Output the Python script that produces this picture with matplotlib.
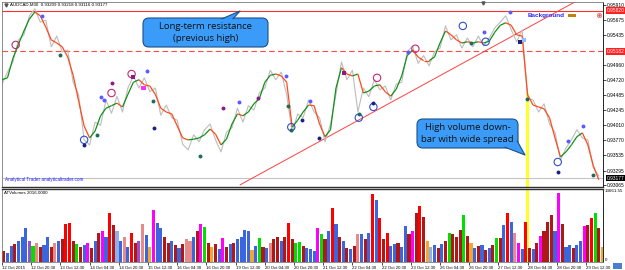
import numpy as np
import matplotlib.pyplot as plt
from matplotlib.collections import LineCollection
from matplotlib.patches import FancyBboxPatch, Polygon, Rectangle

plt.rcParams['font.family'] = ['Liberation Sans', 'DejaVu Sans']

# AUDCAD M30, one reading every 6 bars
step = 6
smooth = [0.9473, 0.9476, 0.9507, 0.9529, 0.9550, 0.9569, 0.9580, 0.9574, 0.9556, 0.9536,
          0.9531, 0.9525, 0.9509, 0.9480, 0.9439, 0.9400, 0.9381, 0.9392, 0.9416, 0.9428,
          0.9432, 0.9436, 0.9430, 0.9450, 0.9469, 0.9473, 0.9465, 0.9463, 0.9450, 0.9428,
          0.9422, 0.9419, 0.9400, 0.9381, 0.9378, 0.9379, 0.9381, 0.9386, 0.9395, 0.9387,
          0.9370, 0.9379, 0.9403, 0.9419, 0.9416, 0.9422, 0.9435, 0.9443, 0.9469, 0.9480,
          0.9482, 0.9479, 0.9469, 0.9398, 0.9409, 0.9422, 0.9433, 0.9432, 0.9403, 0.9383,
          0.9394, 0.9460, 0.9492, 0.9482, 0.9479, 0.9482, 0.9452, 0.9455, 0.9463, 0.9465,
          0.9454, 0.9447, 0.9458, 0.9479, 0.9511, 0.9520, 0.9509, 0.9503, 0.9503, 0.9509,
          0.9531, 0.9550, 0.9544, 0.9536, 0.9531, 0.9533, 0.9531, 0.9533, 0.9531, 0.9534,
          0.9548, 0.9559, 0.9563, 0.9559, 0.9544, 0.9542, 0.9449, 0.9433, 0.9430, 0.9427,
          0.9413, 0.9381, 0.9351, 0.9359, 0.9370, 0.9383, 0.9389, 0.9370, 0.9337, 0.9315]
close = [0.9466, 0.9485, 0.9501, 0.9536, 0.9544, 0.9574, 0.9585, 0.9564, 0.9567, 0.9525,
         0.9542, 0.9517, 0.9520, 0.9469, 0.9449, 0.9378, 0.9370, 0.9406, 0.9401, 0.9441,
         0.9420, 0.9447, 0.9422, 0.9460, 0.9479, 0.9460, 0.9476, 0.9454, 0.9460, 0.9417,
         0.9433, 0.9413, 0.9409, 0.9371, 0.9362, 0.9386, 0.9375, 0.9394, 0.9403, 0.9378,
         0.9359, 0.9390, 0.9397, 0.9428, 0.9406, 0.9432, 0.9425, 0.9452, 0.9460, 0.9488,
         0.9473, 0.9485, 0.9449, 0.9390, 0.9419, 0.9413, 0.9441, 0.9422, 0.9413, 0.9375,
         0.9403, 0.9450, 0.9501, 0.9473, 0.9488, 0.9422, 0.9460, 0.9446, 0.9473, 0.9457,
         0.9463, 0.9441, 0.9466, 0.9469, 0.9517, 0.9526, 0.9499, 0.9511, 0.9495, 0.9517,
         0.9523, 0.9558, 0.9536, 0.9544, 0.9523, 0.9539, 0.9525, 0.9542, 0.9526, 0.9539,
         0.9555, 0.9564, 0.9574, 0.9552, 0.9533, 0.9552, 0.9444, 0.9441, 0.9422, 0.9435,
         0.9403, 0.9390, 0.9346, 0.9365, 0.9378, 0.9394, 0.9381, 0.9378, 0.9334, 0.9321]

# volume, one reading every 4 bars, with colour codes
vol_step = 4
volume = [2090, 1710, 3040, 3420, 3990, 4750, 6270, 3990, 3040, 3610,
          2850, 3230, 4750, 2850, 3610, 3990, 4370, 7030, 7220, 3990,
          3420, 2850, 3230, 3610, 2660, 3990, 5510, 5890, 4750, 9120,
          6840, 5890, 3990, 4750, 2850, 5510, 3610, 3990, 7030, 5130,
          2850, 9690, 7220, 6270, 4750, 3610, 3990, 3230, 2660, 3420,
          4370, 3990, 4750, 5890, 7030, 6460, 3610, 2850, 3420, 2470,
          4560, 2850, 3420, 3610, 4370, 4750, 6080, 5890, 2280, 3040,
          4560, 2850, 2660, 3610, 4370, 4750, 3990, 4750, 7220, 4370,
          3610, 3800, 3040, 2660, 2470, 2090, 6270, 5320, 4370, 5890,
          10070, 7030, 4750, 3990, 2660, 2470, 3040, 5320, 5320, 4370,
          5510, 12730, 11590, 8170, 4370, 5510, 3040, 3420, 3610, 2850,
          6650, 5320, 5890, 9120, 10450, 8360, 3990, 2850, 3230, 2660,
          3420, 3990, 5510, 5320, 4750, 6080, 8740, 4940, 3610, 2660,
          3040, 3230, 2280, 2660, 3230, 4560, 4560, 6840, 9120, 7410,
          5510, 3610, 2470, 7410, 2660, 2470, 3610, 4940, 5890, 7410,
          8740, 5890, 12920, 7030, 2850, 3230, 2660, 3230, 3990, 6650,
          6840, 8170, 9120, 6270, 2850]
vol_codes = ("dbbdbbbpgs" "dbbdsbdrrd" "gdbmdbdmbr" "dlbsbrdpsb" "ombbddbdbd"
             "ssbdmgdodb" "mdbdbbbbob" "gdbsddbdrd" "ggdbbbmgdb" "rbdbdbdsbd"
             "brbrdrbbdb" "bdmdrdolbd" "bdgdddgdob" "dbdbdgdbrb" "smbrdbdmdd"
             "dbmdbbdbbm" "drgdo")
vol_max = 13661.55

res_high = 0.95820
res_low = 0.95182
last_price = 0.93177
trend_bars = [261, 628]
trend_prices = [0.9307, 0.9596]
spike_bar = 575
spike_top = 0.9452

# signal markers (bar, price)
ring_red_bar = [15, 120, 142, 411, 453]
ring_red_px = [0.9528, 0.9452, 0.9482, 0.9476, 0.9522]
ring_blue_bar = [90, 317, 391, 407, 505, 530, 609]
ring_blue_px = [0.9378, 0.9398, 0.9413, 0.9430, 0.9558, 0.9533, 0.9343]
dot_blue_bar = [44, 109, 112, 159, 260, 311, 338, 445, 528, 557, 620, 637]
dot_blue_px = [0.9574, 0.9446, 0.9441, 0.9487, 0.9438, 0.9479, 0.9439, 0.9517, 0.9548, 0.9580, 0.9376, 0.9400]
dot_navy_bar = [90, 167, 329, 347, 407, 609]
dot_navy_px = [0.9370, 0.9397, 0.9409, 0.9381, 0.9436, 0.9327]
dot_teal_bar = [64, 104, 166, 217, 313, 317, 391, 514, 575, 648]
dot_teal_px = [0.9512, 0.9386, 0.9439, 0.9353, 0.9432, 0.9394, 0.9419, 0.9531, 0.9443, 0.9323]
dot_purple_bar = [120, 242, 281]
dot_purple_px = [0.9468, 0.9428, 0.9444]
sq_bar = [144, 155, 375, 568, 572]
sq_px = [0.9477, 0.9460, 0.9484, 0.9533, 0.9536]
sq_colors = ['#8b1a8b', '#ff33ff', '#8b1a8b', '#1a237e', '#8fc0ff']

price_ticks = [0.95910, 0.95675, 0.95435, 0.94960, 0.94720, 0.94485, 0.94245,
               0.94010, 0.93770, 0.93535, 0.93295, 0.93065]
date_labels = ['12 Oct 2015', '12 Oct 20:30', '13 Oct 12:30', '14 Oct 04:30', '14 Oct 20:30',
               '15 Oct 12:30', '16 Oct 04:30', '16 Oct 20:30', '19 Oct 12:30', '20 Oct 04:30',
               '20 Oct 20:30', '21 Oct 12:30', '22 Oct 04:30', '22 Oct 20:30', '23 Oct 12:30',
               '26 Oct 04:30', '26 Oct 20:30', '27 Oct 12:30', '28 Oct 04:30', '28 Oct 20:30',
               '29 Oct 12:30']

palette = {'b': '#3b66dd', 'd': '#b01818', 'r': '#ff0000', 's': '#e88a8a', 'l': '#8fb0ea',
           'm': '#ff00ff', 'g': '#00e000', 'o': '#f0a830', 'p': '#9b4fc8'}

W, H = 625, 270
fig = plt.figure(figsize=(W / 100, H / 100), dpi=100)


def frac(x0, y0, x1, y1):
    return [x0 / W, 1 - y1 / H, (x1 - x0) / W, (y1 - y0) / H]


ax = fig.add_axes(frac(2, 2, 603, 187))
axv = fig.add_axes(frac(2, 189, 603, 262), sharex=ax)

bars = np.arange(len(close)) * step
ax.set_xlim(0, 658.6)
ax.set_ylim(0.93035, 0.95958)

ax.axhline(res_high, color='#ff3030', lw=0.8, zorder=1)
ax.axhline(res_low, color='#ff4848', lw=0.8, ls=(0, (5, 3)), zorder=1)
ax.axhline(last_price, color='#c4c4c4', lw=0.8, zorder=1)
ax.plot(trend_bars, trend_prices, color='#ff4040', lw=0.7, zorder=1)
ax.vlines(spike_bar, 0.93035, spike_top, color='#ffff30', lw=2.3, zorder=0.5)

ax.plot(bars, close, color='#bdbdbd', lw=0.8, zorder=2)
pts = np.column_stack([bars, smooth])
segs = np.stack([pts[:-1], pts[1:]], axis=1)
seg_cols = ['#12901a' if b > a else '#ff4a1c' for a, b in zip(smooth[:-1], smooth[1:])]
ax.add_collection(LineCollection(segs, colors=seg_cols, linewidths=0.9, zorder=3))

ax.scatter(ring_red_bar, ring_red_px, s=28, facecolors='none', edgecolors='#c8286e', linewidths=0.8, zorder=4)
ax.scatter(ring_blue_bar, ring_blue_px, s=28, facecolors='none', edgecolors='#2f4fd0', linewidths=0.8, zorder=4)
ax.scatter(dot_blue_bar, dot_blue_px, s=8, color='#5a5aff', lw=0, zorder=4)
ax.scatter(dot_navy_bar, dot_navy_px, s=8, color='#1a237e', lw=0, zorder=4)
ax.scatter(dot_teal_bar, dot_teal_px, s=8, color='#1e6b5c', lw=0, zorder=4)
ax.scatter(dot_purple_bar, dot_purple_px, s=8, color='#8b1a8b', lw=0, zorder=4)
ax.scatter(sq_bar, sq_px, s=9, marker='s', color=sq_colors, lw=0, zorder=4)

ax.yaxis.tick_right()
ax.set_yticks(price_ticks)
ax.set_yticklabels([f'{t:.5f}' for t in price_ticks])
ax.tick_params(axis='y', labelsize=3.5, length=2, width=0.5, pad=1)
ax.tick_params(axis='x', bottom=False, labelbottom=False)
for val, fc in [(res_high, '#ff2020'), (res_low, '#ff2020'), (last_price, '#000000')]:
    ax.text(1.006, val, f'{val:.5f}', transform=ax.get_yaxis_transform(), fontsize=3.5,
            color='white', va='center', ha='left',
            bbox=dict(boxstyle='square,pad=0.2', fc=fc, ec='none'))

# volume panel
vbars = np.arange(len(volume)) * vol_step + vol_step / 2
axv.axvline(spike_bar, color='#ffff30', lw=2.3, zorder=0.5)
axv.bar(vbars, volume, width=3.4, color=[palette[c] for c in vol_codes], linewidth=0, zorder=2)
axv.set_ylim(0, vol_max)
axv.yaxis.tick_right()
axv.set_yticks([0, vol_max])
axv.set_yticklabels(['0', f'{vol_max:.2f}'])
axv.tick_params(axis='y', labelsize=3.2, length=0, pad=1.2)
vl = axv.get_yticklabels()
vl[0].set_va('bottom')
vl[1].set_va('top')
axv.set_xticks(np.arange(len(date_labels)) * 32)
axv.set_xticklabels(date_labels)
axv.tick_params(axis='x', labelsize=3.1, length=2, width=0.5, pad=0.6)
for lbl in axv.get_xticklabels():
    lbl.set_ha('left')

for a in (ax, axv):
    for s in a.spines.values():
        s.set_color('#7a7a7a')
        s.set_linewidth(0.6)
    a.spines['right'].set_color('#000000')
ax.spines['bottom'].set_color('#303030')
ax.spines['bottom'].set_linewidth(1.0)
axv.spines['top'].set_color('#303030')
axv.spines['top'].set_linewidth(1.0)

# overlay for annotations, in pixel units
ov = fig.add_axes([0, 0, 1, 1], zorder=10)
ov.set_xlim(0, W)
ov.set_ylim(H, 0)
ov.axis('off')

ov.plot(5.5, 4.5, marker='v', ms=2.2, color='#555555')
ov.text(10, 4.6, 'AUDCAD,M30  0.93209 0.93218 0.93116 0.93177', fontsize=3.2, va='center')
ov.plot(483, 2.5, marker='v', ms=2.2, color='#555555')
ov.text(528, 15, 'Background', color='#2b2bff', fontsize=4.6, fontweight='bold', va='center')
ov.add_patch(Rectangle((568, 13.5), 8, 3, fc='#b8860b', ec='none'))
ov.plot(599, 15, marker='o', ms=3.2, mfc='none', mec='#e06060', mew=0.5)
ov.plot(599, 15, marker='o', ms=1.0, color='#e06060')
ov.text(5, 180, 'Analytical Trader analyticaltrader.com', color='#1e1eff', fontsize=3.3, va='center')
ov.text(4, 193, 'ATVolumes 2016.0000', fontsize=3.2, va='center')
ov.add_patch(Rectangle((613, 263), 9, 6, fc='#4a7fd0', ec='none'))

box_fc, box_ec = '#3a9cf8', '#1d4f85'


def callout(x, y, w, h, tail, lines):
    ov.add_patch(FancyBboxPatch((x, y), w, h, boxstyle='round,pad=0,rounding_size=6',
                                fc=box_fc, ec=box_ec, lw=0.8))
    ov.add_patch(Polygon(tail, closed=True, fc=box_fc, ec='none'))
    ov.plot([tail[0][0], tail[2][0], tail[1][0]], [tail[0][1], tail[2][1], tail[1][1]],
            color=box_ec, lw=0.8)
    cx = x + w / 2
    for i, t in enumerate(lines):
        ov.text(cx, y + h / 2 + (i - (len(lines) - 1) / 2) * 12.5, t, ha='center', va='center',
                fontsize=6.8, family='Open Sans', color='#111111')


callout(143, 18, 125, 29, [(222, 18.8), (233, 18.8), (240, 11)],
        ['Long-term resistance', '(previous high)'])
callout(417, 119, 101, 29, [(505, 147.2), (517.2, 141), (525, 155)],
        ['High volume down-', 'bar with wide spread'])

fig.savefig('out.png', dpi=100, facecolor='white')
